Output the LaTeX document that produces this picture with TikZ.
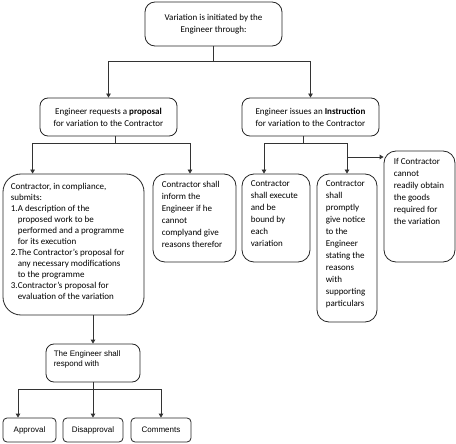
\documentclass[tikz,border=0pt]{standalone}
\usepackage{fontspec}
\setmainfont{Carlito}
\newfontfamily\arialf{Liberation Sans}
\usetikzlibrary{arrows.meta}
\begin{document}
\begin{tikzpicture}[x=1pt,y=-1pt,
  box/.style={draw=black!85, line width=0.8pt, rounded corners=#1, inner sep=0pt, align=center,
    font=\fontsize{9}{12}\selectfont},
  box/.default=8pt,
  txt/.style={inner sep=0pt, align=left, anchor=north west, font=\fontsize{9}{12}\selectfont},
  atxt/.style={inner sep=0pt, align=left, anchor=north west, font=\arialf\fontsize{8}{10}\selectfont},
  abox/.style={draw=black!85, line width=0.8pt, rounded corners=4pt, inner sep=0pt,
    minimum height=24pt, font=\arialf\fontsize{8}{10}\selectfont},
  conn/.style={draw=black!80, line width=0.8pt, -{Triangle[length=4pt,width=4.5pt]}},
  line/.style={draw=black!80, line width=0.8pt}
]
\path[use as bounding box] (0,0) rectangle (456,444);

% boxes
\node[box=10pt, minimum width=137pt, minimum height=44pt] (top) at (213.5,24)
  {Variation is initiated by the\\Engineer through:};
\node[box, minimum width=137pt, minimum height=38pt] (A) at (108.5,117)
  {Engineer requests a \textbf{proposal}\\for variation to the Contractor};
\node[box, minimum width=137pt, minimum height=38pt] (B) at (310.5,117)
  {Engineer issues an \textbf{Instruction}\\for variation to the Contractor};

\node[box=18pt, minimum width=141pt, minimum height=141pt] (C) at (73.5,244.5) {};
\node[txt, font=\fontsize{9}{11}\selectfont] (tC) at ([xshift=8pt,yshift=-9pt]C.north west)
  {Contractor, in compliance,\\
   submits:\\
   \makebox[7pt][l]{1.}A description of the\\
   \hspace*{7pt}proposed work to be\\
   \hspace*{7pt}performed and a programme\\
   \hspace*{7pt}for its execution\\
   \makebox[7pt][l]{2.}The Contractor’s proposal for\\
   \hspace*{7pt}any necessary modifications\\
   \hspace*{7pt}to the programme\\
   \makebox[7pt][l]{3.}Contractor’s proposal for\\
   \hspace*{7pt}evaluation of the variation};

\node[box=12pt, minimum width=83pt, minimum height=88pt] (D) at (194.5,218) {};
\node[txt] (tD) at ([xshift=9pt,yshift=-7pt]D.north west)
  {Contractor shall\\inform the\\Engineer if he\\cannot\\complyand give\\reasons therefor};

\node[box=12pt, minimum width=68pt, minimum height=88pt] (E) at (276,218) {};
\node[txt] (tE) at ([xshift=9pt,yshift=-7pt]E.north west)
  {Contractor\\shall execute\\and be\\bound by\\each\\variation};

\node[box=12pt, minimum width=60pt, minimum height=148pt] (F) at (347,248) {};
\node[txt] (tF) at ([xshift=9pt,yshift=-7pt]F.north west)
  {Contractor\\shall\\promptly\\give notice\\to the\\Engineer\\stating the\\reasons\\with\\supporting\\particulars};

\node[box=12pt, minimum width=71pt, minimum height=111pt] (G) at (419.5,206.5) {};
\node[txt] (tG) at ([xshift=10pt,yshift=-8pt]G.north west)
  {If Contractor\\cannot\\readily obtain\\the goods\\required for\\the variation};

\node[box, minimum width=94pt, minimum height=38pt] (H) at (93,363) {};
\node[atxt] (tH) at ([xshift=8pt,yshift=-7pt]H.north west)
  {The Engineer shall\\respond with};

\node[abox, minimum width=53pt] (ap) at (29.5,430) {Approval};
\node[abox, minimum width=60pt] (dis) at (93,430) {Disapproval};
\node[abox, minimum width=60pt] (com) at (161,430) {Comments};

% connectors
\draw[line] (top.south) -- ++(0,15) coordinate (j1);
\draw[conn] (j1) -| (A.north);
\draw[conn] (j1) -| (B.north);

\coordinate (a1) at ([xshift=6.5pt]A.south);
\draw[line] (a1) -- ++(0,7) coordinate (a2);
\draw[conn] (a2) -| ([xshift=30pt]C.north west);
\draw[conn] (a2) -| ([xshift=-4.5pt]D.north);

\coordinate (b1) at ([xshift=-7.5pt]B.south);
\draw[line] (b1) -- ++(0,7) coordinate (b2);
\draw[conn] (b2) -| ([xshift=-12pt]E.north);
\draw[conn] (b2) -| (F.north);
\coordinate (b3) at (347,157);
\draw[conn] (b3) -- (b3 -| G.west);

\draw[conn] (H.north |- C.south) -- (H.north);

\draw[line] (H.south) -- ++(0,7) coordinate (h1);
\draw[conn] (h1) -| ([xshift=-11.5pt]ap.north);
\draw[conn] (h1) -- (dis.north);
\draw[conn] (h1) -| (com.north);
\end{tikzpicture}
\end{document}
